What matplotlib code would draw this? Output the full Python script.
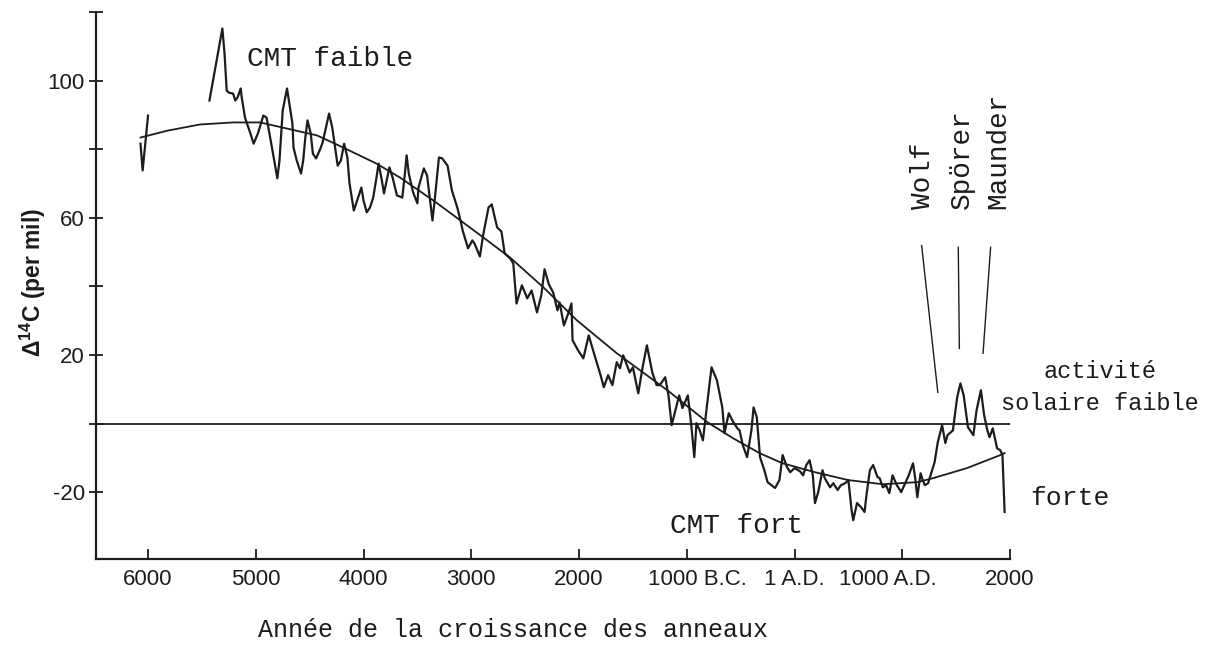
import matplotlib
matplotlib.use('Agg')
import matplotlib.pyplot as plt
import matplotlib.transforms as mtransforms

# short fragment at the start (around 6000 B.C.)
early_years = [-6070, -6050, -6000]
early_d14c = [81.6, 73.8, 89.8]

# main delta 14C record, year (negative = B.C.) and value (per mil)
years = [-5430, -5310, -5290, -5270, -5250, -5210, -5190, -5170, -5140, -5130,
         -5100, -5050, -5020, -4980, -4930, -4900, -4850, -4800, -4780, -4750,
         -4710, -4660, -4650, -4620, -4580, -4560, -4540, -4520, -4490, -4470,
         -4440, -4400, -4380, -4340, -4320, -4290, -4260, -4240, -4210, -4180,
         -4150, -4130, -4090, -4060, -4020, -4000, -3970, -3940, -3910, -3880,
         -3860, -3830, -3810, -3780, -3760, -3730, -3690, -3640, -3620, -3600,
         -3580, -3540, -3500, -3490, -3440, -3410, -3360, -3340, -3300, -3270,
         -3220, -3180, -3130, -3100, -3080, -3030, -2990, -2970, -2920, -2890,
         -2840, -2810, -2760, -2720, -2690, -2640, -2610, -2580, -2530, -2480,
         -2440, -2390, -2350, -2320, -2280, -2240, -2200, -2180, -2140, -2100,
         -2070, -2060, -2010, -1960, -1910, -1850, -1800, -1770, -1730, -1690,
         -1650, -1620, -1590, -1530, -1500, -1450, -1410, -1370, -1320, -1280,
         -1250, -1200, -1170, -1140, -1110, -1070, -1040, -990, -960, -930,
         -910, -880, -850, -810, -770, -720, -670, -650, -610, -570,
         -530, -510, -480, -440, -400, -380, -350, -320, -280, -250,
         -180, -140, -110, -70, -40, 0, 50, 80, 110, 140,
         170, 190, 220, 260, 280, 330, 360, 400, 430, 470,
         500, 530, 545, 580, 620, 650, 670, 700, 730, 770,
         790, 820, 850, 880, 910, 950, 990, 1040, 1060, 1100,
         1120, 1140, 1170, 1190, 1210, 1240, 1300, 1330, 1370, 1400,
         1420, 1470, 1510, 1540, 1570, 1610, 1660, 1690, 1730, 1760,
         1790, 1810, 1840, 1880, 1910, 1930, 1950]
d14c = [94.2, 115.2, 107.9, 97.1, 96.5, 96.2, 94.2, 95.0, 97.7, 95.0,
        89.2, 84.6, 81.6, 84.6, 89.8, 89.2, 80.5, 71.5, 76.7, 91.3,
        97.7, 87.5, 80.5, 76.7, 72.9, 76.7, 83.4, 88.4, 84.6, 78.7,
        77.3, 80.2, 81.9, 87.5, 90.4, 86.3, 79.6, 75.2, 76.7, 81.6,
        77.6, 70.0, 62.1, 65.0, 68.8, 65.0, 61.6, 63.0, 65.9, 71.7,
        75.8, 70.9, 67.1, 71.7, 74.7, 71.7, 66.5, 65.9, 71.7, 78.2,
        72.9, 67.4, 64.2, 68.8, 74.4, 72.3, 59.2, 65.0, 77.6, 77.3,
        75.2, 68.0, 63.0, 59.2, 56.3, 51.1, 53.4, 52.5, 48.7, 54.9,
        63.0, 63.9, 57.2, 56.0, 49.6, 48.2, 46.7, 35.0, 40.3, 36.5,
        38.8, 32.4, 37.4, 45.0, 40.6, 38.2, 33.0, 35.3, 28.6, 32.1,
        35.0, 24.3, 21.4, 19.0, 25.7, 19.3, 14.1, 10.6, 14.1, 11.2,
        17.9, 16.1, 19.9, 14.9, 16.4, 8.8, 16.4, 22.8, 14.9, 11.2,
        11.2, 13.5, 8.2, -0.5, 3.3, 8.2, 4.5, 8.2, 0.1, -9.8,
        0.1, -2.0, -4.9, 5.9, 16.4, 12.6, 4.7, -2.8, 3.0, 0.5,
        -1.4, -2.0, -6.3, -9.8, -2.0, 4.7, 1.8, -9.8, -13.6, -17.1,
        -18.8, -16.5, -9.2, -12.7, -14.2, -13.0, -13.9, -15.1, -12.1, -10.7,
        -15.1, -23.2, -20.0, -13.6, -15.9, -18.6, -17.4, -19.4, -18.0, -17.4,
        -16.5, -25.3, -28.2, -23.2, -24.5, -25.8, -20.3, -13.6, -12.1, -15.6,
        -15.9, -18.6, -18.0, -20.3, -15.1, -18.0, -20.0, -16.5, -15.1, -11.6,
        -15.9, -21.5, -14.5, -16.5, -18.0, -17.4, -11.3, -5.4, -0.5, -5.7,
        -3.4, -2.0, 7.7, 11.7, 8.2, -1.1, -3.4, 3.9, 9.7, 2.4,
        -2.0, -4.0, -1.4, -7.2, -7.8, -9.2, -25.8]

# long-term trend (fitted curve)
trend_years = [-6070, -5820, -5520, -5210, -4960, -4750, -4430, -4190, -3880, -3660,
               -3350, -3100, -2890, -2640, -2330, -2020, -1650, -1180, -810, -570,
               -320, -110, 190, 500, 820, 1140, 1290, 1600, 1910, 1950]
trend_d14c = [83.4, 85.4, 87.2, 87.8, 87.8, 86.3, 84.0, 80.5, 75.8, 71.7,
              65.0, 59.2, 54.3, 48.4, 39.7, 30.1, 20.5, 9.7, 0.4, -4.3,
              -8.7, -11.6, -14.2, -16.5, -17.7, -17.1, -15.9, -13.0, -9.2, -8.6]

xtick_pos = [-6000, -5000, -4000, -3000, -2000, -1000, 0, 1000, 2000]
xtick_lab = ['6000', '5000', '4000', '3000', '2000', '1000 B.C.', '1 A.D.', '1000 A.D.', '2000']
ytick_pos = [-20, 0, 20, 40, 60, 80, 100, 120]
ytick_lab = ['-20', '', '20', '', '60', '', '100', '']

minima = ['Wolf', 'Spörer', 'Maunder']

ink = '#1c1c1c'
mono = 'Liberation Mono'
sans = 'Liberation Sans'
plt.rcParams['font.family'] = sans

fig = plt.figure(figsize=(12.09, 6.46), dpi=100)
ax = fig.add_axes([0.0794, 0.1347, 0.7560, 0.8467])

ax.plot(early_years, early_d14c, color=ink, lw=1.6)
ax.plot(years, d14c, color=ink, lw=1.6)
ax.plot(trend_years, trend_d14c, color=ink, lw=1.3)
ax.axhline(0, color=ink, lw=1.3)

ax.set_xlim(-6483, 2000)
ax.set_ylim(-39.5, 120)

for s in ['top', 'right']:
    ax.spines[s].set_visible(False)
for s in ['left', 'bottom']:
    ax.spines[s].set_linewidth(1.6)
    ax.spines[s].set_color(ink)

ax.set_xticks(xtick_pos)
ax.set_xticklabels(xtick_lab)
ax.set_yticks(ytick_pos)
ax.set_yticklabels(ytick_lab)
ax.tick_params(axis='x', direction='in', length=7, width=1.3, pad=7,
               labelsize=16, colors=ink)
ax.tick_params(axis='y', direction='inout', length=10, width=1.3, pad=3,
               labelsize=16, colors=ink)

# nudge the B.C./A.D. labels like in the original
shifts = {5: 11, 7: -14}
for i, lab in enumerate(ax.get_xticklabels()):
    if i in shifts:
        off = mtransforms.ScaledTranslation(shifts[i] / 100, 0, fig.dpi_scale_trans)
        lab.set_transform(lab.get_transform() + off)

# annotations
ax.text(-5080, 104.4, 'CMT faible', family=mono, fontsize=20, color=ink,
        ha='left', va='baseline')
ax.text(-1155, -32.0, 'CMT fort', family=mono, fontsize=20, color=ink,
        ha='left', va='baseline')

label_x = [1190, 1555, 1890]
for name, lx in zip(minima, label_x):
    ax.text(lx, 62.7, name, family=mono, fontsize=20, color=ink, rotation=90,
            ha='center', va='bottom')

pointer_x = [(1180, 1330), (1520, 1530), (1820, 1750)]
pointer_y = [(51.9, 9.1), (51.4, 21.9), (51.4, 20.5)]
for px, py in zip(pointer_x, pointer_y):
    ax.plot(px, py, color=ink, lw=1.0)

ax.text(2835, 13.2, 'activité', family=mono, fontsize=17, color=ink,
        ha='center', va='baseline', clip_on=False)
ax.text(2835, 3.9, 'solaire faible', family=mono, fontsize=17, color=ink,
        ha='center', va='baseline', clip_on=False)
ax.text(2186, -23.8, 'forte', family=mono, fontsize=19, color=ink,
        ha='left', va='baseline', clip_on=False)

fig.text(0.0273, 0.5635, r'$\mathregular{\Delta^{14}}$C (per mil)', rotation=90,
         ha='center', va='center', fontsize=16.5, fontweight='bold', color=ink)
fig.text(0.4243, 0.0139, 'Année de la croissance des anneaux', family=mono,
         fontsize=18, color=ink, ha='center', va='baseline')

fig.savefig('out.png', dpi=100)
